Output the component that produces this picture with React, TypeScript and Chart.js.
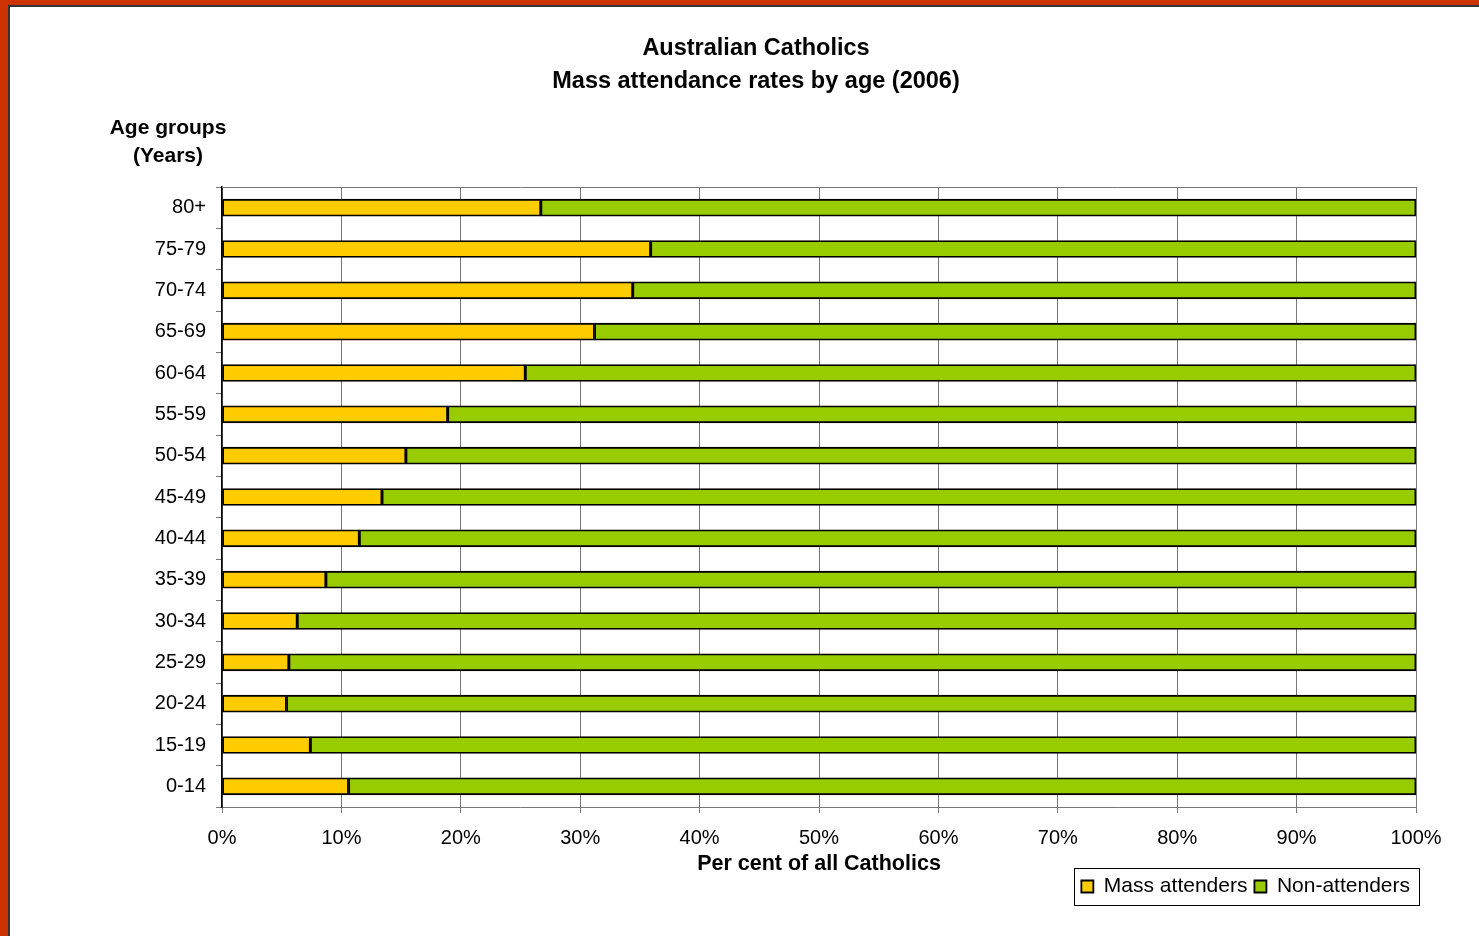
import React, { useEffect, useRef } from "react";
import { Chart, registerables } from "chart.js";

Chart.register(...registerables);

const categories = ["80+", "75-79", "70-74", "65-69", "60-64", "55-59", "50-54", "45-49", "40-44", "35-39", "30-34", "25-29", "20-24", "15-19", "0-14"];
const massAttenders = [26.7, 35.9, 34.4, 31.2, 25.4, 18.9, 15.4, 13.4, 11.5, 8.7, 6.3, 5.6, 5.4, 7.4, 10.6];
const nonAttenders = [73.3, 64.1, 65.6, 68.8, 74.6, 81.1, 84.6, 86.6, 88.5, 91.3, 93.7, 94.4, 94.6, 92.6, 89.4];
const xTicks = [0, 10, 20, 30, 40, 50, 60, 70, 80, 90, 100];
const titleLines = ["Australian Catholics", "Mass attendance rates by age (2006)"];
const yTitleLines = ["Age groups", "(Years)"];
const xTitle = "Per cent of all Catholics";

const FONT = 'Arial, "Liberation Sans", sans-serif';
const GRID = "#777777";

const decorPlugin = {
  id: "decor",
  afterLayout(chart: any) {
    const lg = chart.legend;
    if (lg) {
      lg.left += 1;
      lg.right += 1;
      lg.top += 5;
      lg.bottom += 5;
    }
  },
  beforeDatasetsDraw(chart: any) {
    const { ctx, chartArea } = chart;
    ctx.save();
    ctx.strokeStyle = GRID;
    ctx.lineWidth = 1;
    ctx.beginPath();
    ctx.moveTo(chartArea.left, chartArea.top + 0.5);
    ctx.lineTo(chartArea.right, chartArea.top + 0.5);
    ctx.stroke();
    ctx.restore();
  },
  afterDraw(chart: any) {
    const { ctx } = chart;
    ctx.save();
    ctx.fillStyle = "#000";
    ctx.textAlign = "center";
    ctx.textBaseline = "middle";
    ctx.font = `bold 23.5px ${FONT}`;
    ctx.fillText(titleLines[0], 746, 42);
    ctx.fillText(titleLines[1], 746, 75);
    ctx.font = `bold 21px ${FONT}`;
    ctx.fillText(yTitleLines[0], 158, 121);
    ctx.fillText(yTitleLines[1], 158, 149);
    const boxes = chart.legend?.legendHitBoxes || [];
    if (boxes.length) {
      let l = Infinity, r = -Infinity, t = Infinity, b = -Infinity;
      boxes.forEach((h: any) => {
        l = Math.min(l, h.left);
        r = Math.max(r, h.left + h.width);
        t = Math.min(t, h.top);
        b = Math.max(b, h.top + h.height);
      });
      const cy = (t + b) / 2;
      ctx.strokeStyle = "#000";
      ctx.lineWidth = 1;
      ctx.strokeRect(Math.round(l - 7) + 0.5, Math.round(cy - 19) + 0.5, Math.round(r - l + 16), 37);
    }
    ctx.restore();
  },
};

export default function App() {
  const ref = useRef<HTMLCanvasElement>(null);
  useEffect(() => {
    Chart.defaults.font.family = FONT;
    Chart.defaults.color = "#000";
    const chart = new Chart(ref.current!, {
      type: "bar",
      data: {
        labels: categories,
        datasets: [
          {
            label: "Mass attenders",
            data: massAttenders,
            backgroundColor: "#FFCC00",
            borderColor: "#000",
            borderWidth: 1.8,
            borderSkipped: false,
            barThickness: 17,
          },
          {
            label: "Non-attenders",
            data: nonAttenders,
            backgroundColor: "#99CC00",
            borderColor: "#000",
            borderWidth: 1.8,
            borderSkipped: false,
            barThickness: 17,
          },
        ],
      },
      options: {
        indexAxis: "y",
        animation: false,
        responsive: false,
        maintainAspectRatio: false,
        layout: { padding: { top: 180, right: 63, left: 0, bottom: 34 } },
        plugins: {
          title: { display: false },
          tooltip: { enabled: false },
          legend: {
            display: true,
            position: "bottom",
            align: "end",
            labels: {
              font: { size: 21 },
              color: "#000",
              boxWidth: 12,
              boxHeight: 12,
              padding: 7,
            },
          },
        },
        scales: {
          x: {
            stacked: true,
            min: 0,
            max: 100,
            afterBuildTicks(scale: any) {
              scale.ticks = xTicks.map((v) => ({ value: v }));
            },
            afterFit(scale: any) {
              scale.height = 57;
            },
            ticks: {
              font: { size: 20 },
              color: "#000",
              padding: 13,
              maxRotation: 0,
              callback: (v: any) => `${v}%`,
            },
            grid: { color: GRID, lineWidth: 1, tickLength: 6, drawTicks: true },
            border: { color: GRID, width: 1 },
            title: {
              display: true,
              text: xTitle,
              font: { size: 21.5, weight: "bold" },
              color: "#000",
              padding: { top: 0, bottom: -13 },
            },
          },
          y: {
            stacked: true,
            afterFit(scale: any) {
              scale.width = 212;
            },
            ticks: { font: { size: 20 }, color: "#000", padding: 10 },
            grid: { offset: true, drawOnChartArea: false, drawTicks: true, tickLength: 6, color: GRID },
            border: { color: "#000", width: 1.5 },
          },
        },
      },
      plugins: [decorPlugin],
    });
    return () => chart.destroy();
  }, []);

  return (
    <div style={{ position: "fixed", left: 0, top: 0, width: 1479, height: 936, background: "#CC3300", overflow: "hidden" }}>
      <div style={{ position: "absolute", left: 8, top: 5, width: 1471, height: 931, background: "#333" }}>
        <div style={{ position: "absolute", left: 2, top: 2, width: 1469, height: 929, background: "#fff" }}>
          <canvas ref={ref} width={1469} height={929} style={{ display: "block", width: 1469, height: 929 }} />
        </div>
      </div>
    </div>
  );
}
